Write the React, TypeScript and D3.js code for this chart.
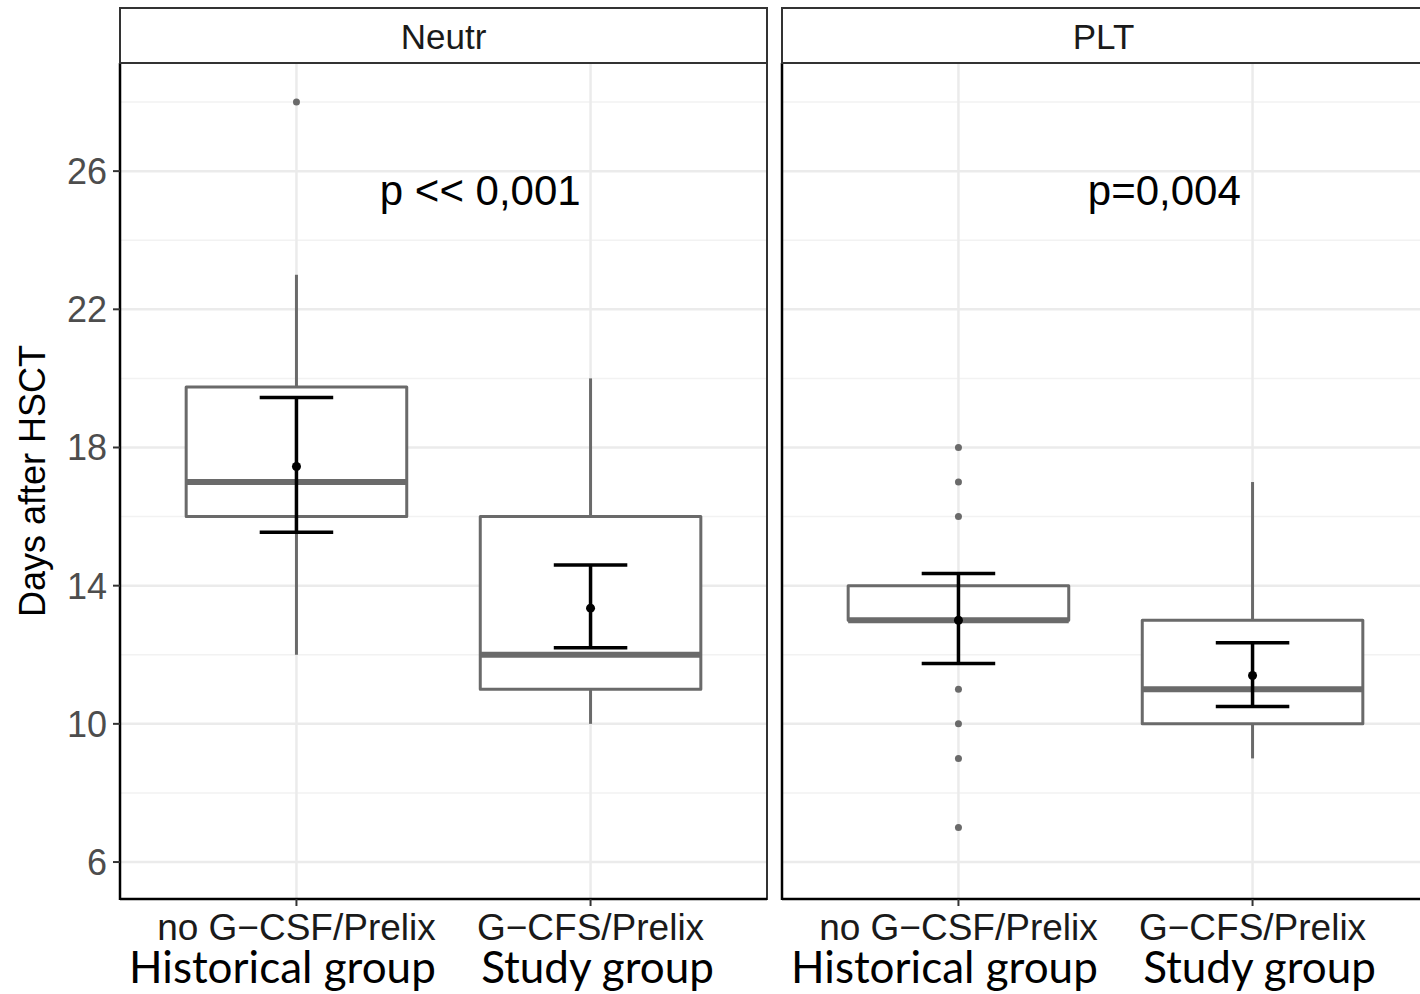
import React from 'react';
import * as d3 from 'd3';

// facets and groups
const panels = ['Neutr', 'PLT'];
const groups = ['no G−CSF/Prelix', 'G−CFS/Prelix'];
const groupNotes = ['Historical group', 'Study group'];
const pLabels = ['p << 0,001', 'p=0,004'];
const pLabelAt = [1.625, 1.7];

// box statistics per panel, per group
const q1 = [[16, 11], [13, 10]];
const medians = [[17, 12], [13, 11]];
const q3 = [[19.75, 16], [14, 13]];
const whiskerLow = [[12, 10], [13, 9]];
const whiskerHigh = [[23, 20], [14, 17]];
const outliers = [[[28], []], [[18, 17, 16, 11, 10, 9, 7], []]];

// mean and error bars
const means = [[17.45, 13.35], [13.0, 11.4]];
const errLow = [[15.55, 12.2], [11.75, 10.5]];
const errHigh = [[19.45, 14.6], [14.35, 12.35]];

const yTicks = [6, 10, 14, 18, 22, 26];
const yMinor = [8, 12, 16, 20, 24, 28];

const W = 1420;
const H = 994;
const top = 63;
const bottom = 899;
const stripTop = 8;
const panelX = [[120, 767], [782, 1429]];

const boxColor = '#6a6a6a';
const font = '"Liberation Sans", Arial, sans-serif';

const y = d3.scaleLinear().domain([4.93, 29.13]).range([bottom, top]);

const App = () => {
  return (
    <svg width={W} height={H} style={{ position: 'absolute', left: 0, top: 0, background: '#fff' }}>
      {panels.map((name, p) => {
        const [x0, x1] = panelX[p];
        const x = d3.scaleLinear().domain([0.4, 2.6]).range([x0, x1]);
        return (
          <g key={name}>
            {/* grid */}
            {yMinor.map((t) => (
              <line key={'mi' + t} x1={x0} x2={x1} y1={y(t)} y2={y(t)} stroke="#f2f2f2" strokeWidth={1.5} />
            ))}
            {yTicks.map((t) => (
              <line key={'ma' + t} x1={x0} x2={x1} y1={y(t)} y2={y(t)} stroke="#ebebeb" strokeWidth={2.5} />
            ))}
            {groups.map((g, i) => (
              <line key={'gx' + i} x1={x(i + 1)} x2={x(i + 1)} y1={top} y2={bottom} stroke="#ebebeb" strokeWidth={2.5} />
            ))}

            {/* boxplots */}
            {groups.map((g, i) => {
              const cx = x(i + 1);
              const bx0 = x(i + 1 - 0.375);
              const bx1 = x(i + 1 + 0.375);
              return (
                <g key={'box' + i}>
                  <line x1={cx} x2={cx} y1={y(whiskerHigh[p][i])} y2={y(q3[p][i])} stroke={boxColor} strokeWidth={3} />
                  <line x1={cx} x2={cx} y1={y(q1[p][i])} y2={y(whiskerLow[p][i])} stroke={boxColor} strokeWidth={3} />
                  <rect x={bx0} y={y(q3[p][i])} width={bx1 - bx0} height={y(q1[p][i]) - y(q3[p][i])}
                    fill="#fff" stroke={boxColor} strokeWidth={3} strokeLinejoin="round" />
                  <line x1={bx0} x2={bx1} y1={y(medians[p][i])} y2={y(medians[p][i])} stroke={boxColor} strokeWidth={6} />
                  {outliers[p][i].map((v, k) => (
                    <circle key={k} cx={cx} cy={y(v)} r={3.5} fill={boxColor} />
                  ))}
                </g>
              );
            })}

            {/* mean and error bars */}
            {groups.map((g, i) => {
              const cx = x(i + 1);
              const c0 = x(i + 1 - 0.125);
              const c1 = x(i + 1 + 0.125);
              return (
                <g key={'err' + i} stroke="#000" strokeWidth={3.5}>
                  <line x1={cx} x2={cx} y1={y(errHigh[p][i])} y2={y(errLow[p][i])} />
                  <line x1={c0} x2={c1} y1={y(errHigh[p][i])} y2={y(errHigh[p][i])} />
                  <line x1={c0} x2={c1} y1={y(errLow[p][i])} y2={y(errLow[p][i])} />
                  <circle cx={cx} cy={y(means[p][i])} r={4.5} fill="#000" stroke="none" />
                </g>
              );
            })}

            {/* p value */}
            <text x={x(pLabelAt[p])} y={205} textAnchor="middle" fontFamily={font} fontSize={42} fill="#000">
              {pLabels[p]}
            </text>

            {/* panel border */}
            <rect x={x0} y={top} width={x1 - x0} height={bottom - top} fill="none" stroke="#333" strokeWidth={2} />
            <line x1={x0} x2={x0} y1={top} y2={bottom + 1} stroke="#000" strokeWidth={2.5} />
            <line x1={x0} x2={x1} y1={bottom} y2={bottom} stroke="#000" strokeWidth={2.5} />

            {/* strip */}
            <rect x={x0} y={stripTop} width={x1 - x0} height={top - stripTop} fill="#fff" stroke="#333" strokeWidth={2} />
            <text x={(x0 + Math.min(x1, W + 20)) / 2 - (p === 1 ? 2 : 0)} y={49} textAnchor="middle" fontFamily={font} fontSize={35} fill="#1a1a1a">
              {name}
            </text>

            {/* x axis */}
            {groups.map((g, i) => (
              <g key={'xt' + i}>
                <line x1={x(i + 1)} x2={x(i + 1)} y1={bottom} y2={bottom + 7} stroke="#333" strokeWidth={2} />
                <text x={x(i + 1)} y={940} textAnchor="middle" fontFamily={font} fontSize={37} fill="#1a1a1a">
                  {g}
                </text>
                <text x={x(i + 1) + (i === 0 ? -14 : 7)} y={983} textAnchor="middle" fontFamily="Lato, 'Open Sans', sans-serif" fontSize={44} fill="#000">
                  {groupNotes[i]}
                </text>
              </g>
            ))}

            {/* y axis */}
            {p === 0 && yTicks.map((t) => (
              <g key={'yt' + t}>
                <line x1={x0 - 7} x2={x0} y1={y(t)} y2={y(t)} stroke="#333" strokeWidth={2} />
                <text x={x0 - 13} y={y(t) + 13} textAnchor="end" fontFamily={font} fontSize={36} fill="#4d4d4d">
                  {t}
                </text>
              </g>
            ))}
          </g>
        );
      })}
      <text transform={`translate(45,${(top + bottom) / 2}) rotate(-90)`} textAnchor="middle" fontFamily={font} fontSize={36} fill="#000">
        Days after HSCT
      </text>
    </svg>
  );
};

export default App;
